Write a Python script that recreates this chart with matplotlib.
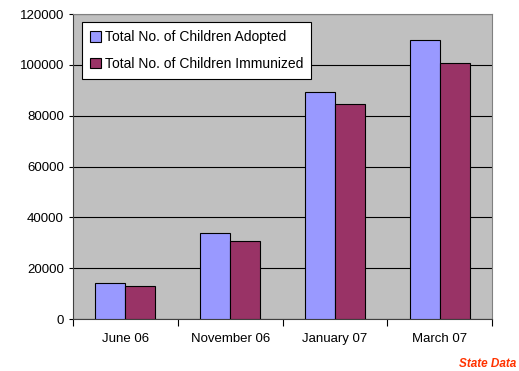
import numpy as np
import matplotlib.pyplot as plt

plt.rcParams["font.family"] = ["Liberation Sans", "DejaVu Sans"]

# 数据
months = ["June 06", "November 06", "January 07", "March 07"]
adopted = [14200, 33800, 89400, 109900]
immunized = [13100, 30700, 84700, 100700]

fig = plt.figure(figsize=(5.19, 3.71), dpi=100)
ax = fig.add_axes([0.1407, 0.140, 0.8073, 0.822])
ax.set_facecolor("#C0C0C0")

x = np.arange(len(months))
w = 0.286
ax.bar(x - w / 2, adopted, w, color="#9999FF", edgecolor="black", linewidth=0.8,
       label="Total No. of Children Adopted", zorder=3)
ax.bar(x + w / 2, immunized, w, color="#993366", edgecolor="black", linewidth=0.8,
       label="Total No. of Children Immunized", zorder=3)

ax.set_xlim(-0.5, len(months) - 0.5)
ax.set_ylim(0, 120000)
ax.set_yticks(range(0, 120001, 20000))
ax.yaxis.grid(True, color="black", linewidth=0.8, zorder=1)
ax.set_axisbelow(True)

# x 轴：刻度线在类别之间，标签在中间
ax.set_xticks(np.arange(-0.5, len(months), 1.0))
ax.set_xticklabels([])
ax.set_xticks(x, minor=True)
ax.set_xticklabels(months, minor=True)
ax.tick_params(axis="x", which="minor", length=0, pad=10, labelsize=9.5)
ax.tick_params(axis="x", which="major", length=5, direction="out")
ax.tick_params(axis="y", length=3, direction="out", labelsize=9.5)

for s in ["top", "right"]:
    ax.spines[s].set_color("#808080")
ax.spines["left"].set_color("#404040")
ax.spines["bottom"].set_color("#404040")

leg = ax.legend(loc="upper left", bbox_to_anchor=(0.021, 0.974), fontsize=10,
                frameon=True, fancybox=False, edgecolor="black", framealpha=1,
                handlelength=0.8, handleheight=0.8, handletextpad=0.25,
                labelspacing=0.9, borderpad=0.6, borderaxespad=0)
leg.get_frame().set_linewidth(0.8)

fig.text(0.995, 0.003, "State Data", color="#FF3300", fontsize=8.5,
         fontweight="bold", fontstyle="italic", ha="right", va="bottom")

fig.savefig("out.png", dpi=100)
